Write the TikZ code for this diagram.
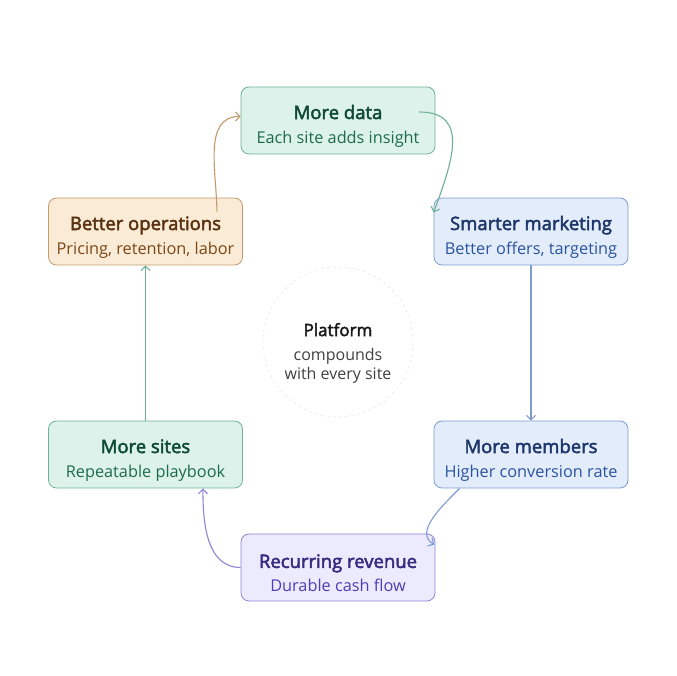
\documentclass[tikz,border=0pt]{standalone}
\usepackage{fontspec}
\setmainfont{Open Sans}[BoldFont={Open Sans}, BoldFeatures={FakeBold=2.6}]
\usetikzlibrary{arrows.meta}
\definecolor{grnfill}{HTML}{DDF2EA}
\definecolor{grndraw}{HTML}{6DB293}
\definecolor{grntitle}{HTML}{0F4A36}
\definecolor{grnsub}{HTML}{1D6B4E}
\definecolor{orgfill}{HTML}{FAEBD6}
\definecolor{orgdraw}{HTML}{C49A6C}
\definecolor{orgtitle}{HTML}{5A3210}
\definecolor{orgsub}{HTML}{7B4716}
\definecolor{blufill}{HTML}{E3ECFA}
\definecolor{bludraw}{HTML}{7C9BD2}
\definecolor{blutitle}{HTML}{1D366B}
\definecolor{blusub}{HTML}{2A54A0}
\definecolor{purfill}{HTML}{ECEAFD}
\definecolor{purdraw}{HTML}{8E84D8}
\definecolor{purtitle}{HTML}{372A80}
\definecolor{pursub}{HTML}{4F3FB5}
\newcommand{\cardtext}[2]{{\fontsize{18.5}{24}\selectfont\bfseries\rule{0pt}{25pt}#1}\\{#2}}

\begin{document}
\begin{tikzpicture}[x=1pt,y=1pt]
  \tikzset{card/.style={draw, rounded corners=8pt, line width=0.8pt, minimum width=194pt,
      minimum height=67pt, align=center, inner sep=0pt,
      font=\fontsize{16.3}{24}\selectfont},
    grncard/.style={card, fill=grnfill, draw=grndraw, text=grnsub},
    orgcard/.style={card, fill=orgfill, draw=orgdraw, text=orgsub},
    blucard/.style={card, fill=blufill, draw=bludraw, text=blusub},
    purcard/.style={card, fill=purfill, draw=purdraw, text=pursub},
    link/.style={line width=1.1pt, -{Straight Barb[length=4.5pt,width=9pt]}}}
  \useasboundingbox (0,0) rectangle (677,676);
  \node[grncard] (data) at (338,555.5) {\cardtext{\color{grntitle}More data}{Each site adds insight}};
  \node[orgcard] (ops) at (145.5,444.5) {\cardtext{\color{orgtitle}Better operations}{Pricing, retention, labor}};
  \node[blucard] (mkt) at (531,444.5) {\cardtext{\color{blutitle}Smarter marketing}{Better offers, targeting}};
  \node[grncard] (sites) at (145.5,221.5) {\cardtext{\color{grntitle}More sites}{Repeatable playbook}};
  \node[blucard] (members) at (531,221.5) {\cardtext{\color{blutitle}More members}{Higher conversion rate}};
  \node[purcard] (revenue) at (338,108.5) {\cardtext{\color{purtitle}Recurring revenue}{Durable cash flow}};
  \node[draw=black!12, dashed, circle, minimum size=150pt, align=center, text=black!75,
    font=\fontsize{16}{19}\selectfont] (hub) at (338,334)
    {{\fontsize{17}{19}\selectfont\bfseries\color{black!90}\rule{0pt}{35pt}Platform}\\[5pt]compounds\\with every site};
  \draw[link, grndraw] ([shift={(-16,8.5)}]data.east) to[out=0,in=70,looseness=1.3] ([yshift=-15]mkt.north west);
  \draw[link, bludraw] (mkt.south) -- (members.north);
  \draw[link, bludraw] ([xshift=26]members.south west) to[out=225,in=150] ([shift={(-1,-11)}]revenue.north east);
  \draw[link, purdraw] (revenue.west) to[out=180,in=-90] ([xshift=-40]sites.south east);
  \draw[link, grndraw] (sites.north) -- (ops.south);
  \draw[link, orgdraw] ([shift={(-26,-14)}]ops.north east) to[out=90,in=180] ([yshift=4]data.west);
\end{tikzpicture}
\end{document}
